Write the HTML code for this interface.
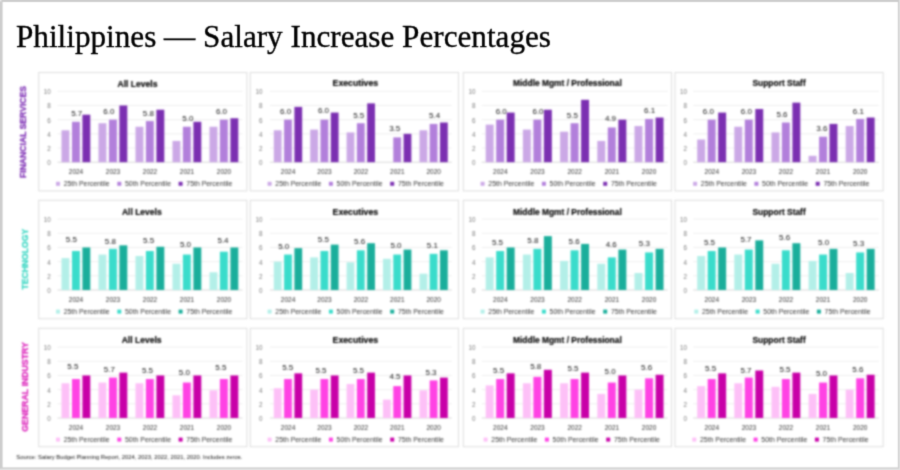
<!DOCTYPE html>
<html lang="en"><head><meta charset="utf-8"><title>Philippines — Salary Increase Percentages</title>
<style>
html,body{margin:0;padding:0;background:#e3e3e3;overflow:hidden}
body{width:900px;height:470px;position:relative;font-family:"Liberation Sans",Arial,sans-serif}
svg{position:absolute;left:0;top:0;display:block}

text{font-family:"Liberation Sans",Arial,sans-serif}
.ttl{font-family:"Liberation Serif","Times New Roman",serif;fill:#000;stroke:#000;stroke-width:0.35px}
.ct{font-weight:bold;fill:#000;stroke:#000;stroke-width:0.15px;text-anchor:middle}
.yl{fill:#7a7a7a;text-anchor:end}
.xl{fill:#303030;text-anchor:middle}
.lg{fill:#353535}
.dl{fill:#111;stroke:none;text-anchor:middle}
.sd{font-weight:bold;text-anchor:middle}
.src{fill:#111}
</style></head><body>
<svg id="s0" width="900" height="470" viewBox="0 0 900 470">
<defs>
<filter id="f0" filterUnits="userSpaceOnUse" x="0" y="0" width="900" height="470" color-interpolation-filters="sRGB"><feConvolveMatrix order="5" kernelMatrix="0.00001 0.00042 0.00170 0.00042 0.00001 0.00042 0.02740 0.10988 0.02740 0.00042 0.00170 0.10988 0.44065 0.10988 0.00170 0.00042 0.02740 0.10988 0.02740 0.00042 0.00001 0.00042 0.00170 0.00042 0.00001" edgeMode="duplicate" preserveAlpha="false"/></filter>
<filter id="f1" filterUnits="userSpaceOnUse" x="0" y="0" width="900" height="470" color-interpolation-filters="sRGB"><feConvolveMatrix order="5" kernelMatrix="0.00000 0.00013 0.00070 0.00013 0.00000 0.00013 0.01910 0.09973 0.01910 0.00013 0.00070 0.09973 0.52080 0.09973 0.00070 0.00013 0.01910 0.09973 0.01910 0.00013 0.00000 0.00013 0.00070 0.00013 0.00000" edgeMode="none" preserveAlpha="false"/></filter>
<filter id="f2" filterUnits="userSpaceOnUse" x="0" y="0" width="900" height="470" color-interpolation-filters="sRGB"><feConvolveMatrix order="7" kernelMatrix="0.00001 0.00013 0.00069 0.00121 0.00069 0.00013 0.00001 0.00013 0.00210 0.01105 0.01923 0.01105 0.00210 0.00013 0.00069 0.01105 0.05825 0.10136 0.05825 0.01105 0.00069 0.00121 0.01923 0.10136 0.17639 0.10136 0.01923 0.00121 0.00069 0.01105 0.05825 0.10136 0.05825 0.01105 0.00069 0.00013 0.00210 0.01105 0.01923 0.01105 0.00210 0.00013 0.00001 0.00013 0.00069 0.00121 0.00069 0.00013 0.00001" edgeMode="none" preserveAlpha="false"/></filter>
</defs><g filter="url(#f0)">
<rect x="-10" y="-10" width="920" height="490" fill="#e3e3e3"/>
<rect x="-5" y="-5" width="904.1" height="473.7" fill="#cdcdcd"/>
<rect x="-5" y="-5" width="6.4" height="6.4" fill="#e8e8e8"/>
<rect x="2.6" y="2" width="895.3" height="465.4" fill="#ffffff"/>
</g></svg>
<svg id="s1" width="900" height="470" viewBox="0 0 900 470"><g filter="url(#f1)">
<text class="ttl" x="16.0" y="46.6" font-size="31.6" textLength="535" lengthAdjust="spacingAndGlyphs">Philippines — Salary Increase Percentages</text>
</g></svg>
<svg id="s2" width="900" height="470" viewBox="0 0 900 470"><g filter="url(#f2)">
<text class="sd" font-size="8.7" fill="#7d2eb4" stroke="#7d2eb4" stroke-width="0.25" transform="translate(25.5,132.0) rotate(-90)" textLength="92.0" lengthAdjust="spacingAndGlyphs">FINANCIAL SERVICES</text>
<g>
<rect x="38.7" y="72.5" width="208.2" height="118.4" fill="#fff" stroke="#dedede" stroke-width="1"/>
<text class="ct" x="137.5" y="87.1" font-size="8.6" textLength="39.8" lengthAdjust="spacingAndGlyphs">All Levels</text>
<line x1="57.5" x2="242.5" y1="162.20" y2="162.20" stroke="#d4d4d4" stroke-width="0.9"/><text class="yl" x="50.8" y="165.10" font-size="6.3">0</text>
<line x1="57.5" x2="242.5" y1="148.02" y2="148.02" stroke="#ececec" stroke-width="0.9"/><text class="yl" x="50.8" y="150.92" font-size="6.3">2</text>
<line x1="57.5" x2="242.5" y1="133.84" y2="133.84" stroke="#ececec" stroke-width="0.9"/><text class="yl" x="50.8" y="136.74" font-size="6.3">4</text>
<line x1="57.5" x2="242.5" y1="119.66" y2="119.66" stroke="#ececec" stroke-width="0.9"/><text class="yl" x="50.8" y="122.56" font-size="6.3">6</text>
<line x1="57.5" x2="242.5" y1="105.48" y2="105.48" stroke="#ececec" stroke-width="0.9"/><text class="yl" x="50.8" y="108.38" font-size="6.3">8</text>
<line x1="57.5" x2="242.5" y1="91.30" y2="91.30" stroke="#ececec" stroke-width="0.9"/><text class="yl" x="50.8" y="94.20" font-size="6.3">10</text>
<rect x="61.5" y="130.29" width="7.90" height="31.90" fill="#cba8e6"/><rect x="72.0" y="121.79" width="7.90" height="40.41" fill="#b27fdb"/><rect x="82.4" y="114.70" width="7.90" height="47.50" fill="#7b2fb1"/>
<text class="xl" x="76.0" y="174.4" font-size="6.5">2024</text><text class="dl" x="76.7" y="116.1" font-size="8">5.7</text>
<rect x="98.5" y="123.20" width="7.90" height="38.99" fill="#cba8e6"/><rect x="109.0" y="119.66" width="7.90" height="42.54" fill="#b27fdb"/><rect x="119.4" y="105.48" width="7.90" height="56.72" fill="#7b2fb1"/>
<text class="xl" x="113.0" y="174.4" font-size="6.5">2023</text><text class="dl" x="108.9" y="114.0" font-size="8">6.0</text>
<rect x="135.5" y="126.75" width="7.90" height="35.45" fill="#cba8e6"/><rect x="145.9" y="121.08" width="7.90" height="41.12" fill="#b27fdb"/><rect x="156.4" y="109.73" width="7.90" height="52.47" fill="#7b2fb1"/>
<text class="xl" x="150.0" y="174.4" font-size="6.5">2022</text><text class="dl" x="148.4" y="115.5" font-size="8">5.8</text>
<rect x="172.5" y="140.93" width="7.90" height="21.27" fill="#cba8e6"/><rect x="182.9" y="126.75" width="7.90" height="35.45" fill="#b27fdb"/><rect x="193.4" y="121.79" width="7.90" height="40.41" fill="#7b2fb1"/>
<text class="xl" x="187.0" y="174.4" font-size="6.5">2021</text><text class="dl" x="187.8" y="121.1" font-size="8">5.0</text>
<rect x="209.5" y="126.75" width="7.90" height="35.45" fill="#cba8e6"/><rect x="219.9" y="119.66" width="7.90" height="42.54" fill="#b27fdb"/><rect x="230.4" y="118.24" width="7.90" height="43.96" fill="#7b2fb1"/>
<text class="xl" x="224.0" y="174.4" font-size="6.5">2020</text><text class="dl" x="221.5" y="114.0" font-size="8">6.0</text>
<rect x="56.0" y="181.8" width="4.0" height="4.0" fill="#cba8e6"/><text class="lg" x="63.7" y="186.2" font-size="6.9" textLength="46" lengthAdjust="spacingAndGlyphs">25th Percentile</text>
<rect x="117.3" y="181.8" width="4.0" height="4.0" fill="#b27fdb"/><text class="lg" x="125.0" y="186.2" font-size="6.9" textLength="46" lengthAdjust="spacingAndGlyphs">50th Percentile</text>
<rect x="178.6" y="181.8" width="4.0" height="4.0" fill="#7b2fb1"/><text class="lg" x="186.3" y="186.2" font-size="6.9" textLength="46" lengthAdjust="spacingAndGlyphs">75th Percentile</text>
</g>
<g>
<rect x="250.3" y="72.5" width="208.2" height="118.4" fill="#fff" stroke="#dedede" stroke-width="1"/>
<text class="ct" x="355.4" y="85.9" font-size="8.6" textLength="45.6" lengthAdjust="spacingAndGlyphs">Executives</text>
<line x1="269.9" x2="451.9" y1="162.20" y2="162.20" stroke="#d4d4d4" stroke-width="0.9"/><text class="yl" x="262.4" y="165.10" font-size="6.3">0</text>
<line x1="269.9" x2="451.9" y1="148.02" y2="148.02" stroke="#ececec" stroke-width="0.9"/><text class="yl" x="262.4" y="150.92" font-size="6.3">2</text>
<line x1="269.9" x2="451.9" y1="133.84" y2="133.84" stroke="#ececec" stroke-width="0.9"/><text class="yl" x="262.4" y="136.74" font-size="6.3">4</text>
<line x1="269.9" x2="451.9" y1="119.66" y2="119.66" stroke="#ececec" stroke-width="0.9"/><text class="yl" x="262.4" y="122.56" font-size="6.3">6</text>
<line x1="269.9" x2="451.9" y1="105.48" y2="105.48" stroke="#ececec" stroke-width="0.9"/><text class="yl" x="262.4" y="108.38" font-size="6.3">8</text>
<line x1="269.9" x2="451.9" y1="91.30" y2="91.30" stroke="#ececec" stroke-width="0.9"/><text class="yl" x="262.4" y="94.20" font-size="6.3">10</text>
<rect x="273.8" y="130.29" width="7.77" height="31.90" fill="#cba8e6"/><rect x="284.1" y="119.66" width="7.77" height="42.54" fill="#b27fdb"/><rect x="294.4" y="106.90" width="7.77" height="55.30" fill="#7b2fb1"/>
<text class="xl" x="288.1" y="174.4" font-size="6.5">2024</text><text class="dl" x="285.6" y="113.6" font-size="8">6.0</text>
<rect x="310.2" y="129.59" width="7.77" height="32.61" fill="#cba8e6"/><rect x="320.5" y="119.66" width="7.77" height="42.54" fill="#b27fdb"/><rect x="330.8" y="112.57" width="7.77" height="49.63" fill="#7b2fb1"/>
<text class="xl" x="324.5" y="174.4" font-size="6.5">2023</text><text class="dl" x="323.5" y="112.9" font-size="8">6.0</text>
<rect x="346.6" y="132.42" width="7.77" height="29.78" fill="#cba8e6"/><rect x="356.9" y="123.20" width="7.77" height="38.99" fill="#b27fdb"/><rect x="367.2" y="103.35" width="7.77" height="58.85" fill="#7b2fb1"/>
<text class="xl" x="360.9" y="174.4" font-size="6.5">2022</text><text class="dl" x="358.7" y="117.6" font-size="8">5.5</text>
<rect x="393.3" y="137.38" width="7.77" height="24.81" fill="#b27fdb"/><rect x="403.6" y="133.84" width="7.77" height="28.36" fill="#7b2fb1"/>
<text class="xl" x="397.3" y="174.4" font-size="6.5">2021</text><text class="dl" x="394.7" y="131.1" font-size="8">3.5</text>
<rect x="419.5" y="130.29" width="7.77" height="31.90" fill="#cba8e6"/><rect x="429.7" y="123.91" width="7.77" height="38.29" fill="#b27fdb"/><rect x="440.0" y="122.50" width="7.77" height="39.70" fill="#7b2fb1"/>
<text class="xl" x="433.7" y="174.4" font-size="6.5">2020</text><text class="dl" x="434.6" y="117.8" font-size="8">5.4</text>
<rect x="267.6" y="181.8" width="4.0" height="4.0" fill="#cba8e6"/><text class="lg" x="275.3" y="186.2" font-size="6.9" textLength="46" lengthAdjust="spacingAndGlyphs">25th Percentile</text>
<rect x="328.9" y="181.8" width="4.0" height="4.0" fill="#b27fdb"/><text class="lg" x="336.6" y="186.2" font-size="6.9" textLength="46" lengthAdjust="spacingAndGlyphs">50th Percentile</text>
<rect x="390.2" y="181.8" width="4.0" height="4.0" fill="#7b2fb1"/><text class="lg" x="397.9" y="186.2" font-size="6.9" textLength="46" lengthAdjust="spacingAndGlyphs">75th Percentile</text>
</g>
<g>
<rect x="463.3" y="72.5" width="208.2" height="118.4" fill="#fff" stroke="#dedede" stroke-width="1"/>
<text class="ct" x="567.4" y="86.1" font-size="8.6" textLength="108.7" lengthAdjust="spacingAndGlyphs">Middle Mgmt / Professional</text>
<line x1="481.7" x2="667.7" y1="162.20" y2="162.20" stroke="#d4d4d4" stroke-width="0.9"/><text class="yl" x="475.4" y="165.10" font-size="6.3">0</text>
<line x1="481.7" x2="667.7" y1="148.02" y2="148.02" stroke="#ececec" stroke-width="0.9"/><text class="yl" x="475.4" y="150.92" font-size="6.3">2</text>
<line x1="481.7" x2="667.7" y1="133.84" y2="133.84" stroke="#ececec" stroke-width="0.9"/><text class="yl" x="475.4" y="136.74" font-size="6.3">4</text>
<line x1="481.7" x2="667.7" y1="119.66" y2="119.66" stroke="#ececec" stroke-width="0.9"/><text class="yl" x="475.4" y="122.56" font-size="6.3">6</text>
<line x1="481.7" x2="667.7" y1="105.48" y2="105.48" stroke="#ececec" stroke-width="0.9"/><text class="yl" x="475.4" y="108.38" font-size="6.3">8</text>
<line x1="481.7" x2="667.7" y1="91.30" y2="91.30" stroke="#ececec" stroke-width="0.9"/><text class="yl" x="475.4" y="94.20" font-size="6.3">10</text>
<rect x="485.7" y="124.62" width="7.94" height="37.58" fill="#cba8e6"/><rect x="496.2" y="119.66" width="7.94" height="42.54" fill="#b27fdb"/><rect x="506.7" y="112.57" width="7.94" height="49.63" fill="#7b2fb1"/>
<text class="xl" x="500.3" y="174.4" font-size="6.5">2024</text><text class="dl" x="501.2" y="113.6" font-size="8">6.0</text>
<rect x="522.9" y="129.59" width="7.94" height="32.61" fill="#cba8e6"/><rect x="533.4" y="119.66" width="7.94" height="42.54" fill="#b27fdb"/><rect x="543.9" y="109.73" width="7.94" height="52.47" fill="#7b2fb1"/>
<text class="xl" x="537.5" y="174.4" font-size="6.5">2023</text><text class="dl" x="538.0" y="113.6" font-size="8">6.0</text>
<rect x="560.1" y="131.71" width="7.94" height="30.49" fill="#cba8e6"/><rect x="570.6" y="123.20" width="7.94" height="38.99" fill="#b27fdb"/><rect x="581.1" y="99.81" width="7.94" height="62.39" fill="#7b2fb1"/>
<text class="xl" x="574.7" y="174.4" font-size="6.5">2022</text><text class="dl" x="572.4" y="117.6" font-size="8">5.5</text>
<rect x="597.3" y="140.93" width="7.94" height="21.27" fill="#cba8e6"/><rect x="607.8" y="127.46" width="7.94" height="34.74" fill="#b27fdb"/><rect x="618.4" y="119.66" width="7.94" height="42.54" fill="#7b2fb1"/>
<text class="xl" x="611.9" y="174.4" font-size="6.5">2021</text><text class="dl" x="610.5" y="121.1" font-size="8">4.9</text>
<rect x="634.5" y="126.04" width="7.94" height="36.16" fill="#cba8e6"/><rect x="645.1" y="118.95" width="7.94" height="43.25" fill="#b27fdb"/><rect x="655.6" y="117.53" width="7.94" height="44.67" fill="#7b2fb1"/>
<text class="xl" x="649.1" y="174.4" font-size="6.5">2020</text><text class="dl" x="649.6" y="112.9" font-size="8">6.1</text>
<rect x="480.6" y="181.8" width="4.0" height="4.0" fill="#cba8e6"/><text class="lg" x="488.3" y="186.2" font-size="6.9" textLength="46" lengthAdjust="spacingAndGlyphs">25th Percentile</text>
<rect x="541.9" y="181.8" width="4.0" height="4.0" fill="#b27fdb"/><text class="lg" x="549.6" y="186.2" font-size="6.9" textLength="46" lengthAdjust="spacingAndGlyphs">50th Percentile</text>
<rect x="603.2" y="181.8" width="4.0" height="4.0" fill="#7b2fb1"/><text class="lg" x="610.9" y="186.2" font-size="6.9" textLength="46" lengthAdjust="spacingAndGlyphs">75th Percentile</text>
</g>
<g>
<rect x="675.0" y="72.5" width="208.2" height="118.4" fill="#fff" stroke="#dedede" stroke-width="1"/>
<text class="ct" x="779.1" y="86.1" font-size="8.6" textLength="53.2" lengthAdjust="spacingAndGlyphs">Support Staff</text>
<line x1="693.2" x2="878.8" y1="162.20" y2="162.20" stroke="#d4d4d4" stroke-width="0.9"/><text class="yl" x="687.1" y="165.10" font-size="6.3">0</text>
<line x1="693.2" x2="878.8" y1="148.02" y2="148.02" stroke="#ececec" stroke-width="0.9"/><text class="yl" x="687.1" y="150.92" font-size="6.3">2</text>
<line x1="693.2" x2="878.8" y1="133.84" y2="133.84" stroke="#ececec" stroke-width="0.9"/><text class="yl" x="687.1" y="136.74" font-size="6.3">4</text>
<line x1="693.2" x2="878.8" y1="119.66" y2="119.66" stroke="#ececec" stroke-width="0.9"/><text class="yl" x="687.1" y="122.56" font-size="6.3">6</text>
<line x1="693.2" x2="878.8" y1="105.48" y2="105.48" stroke="#ececec" stroke-width="0.9"/><text class="yl" x="687.1" y="108.38" font-size="6.3">8</text>
<line x1="693.2" x2="878.8" y1="91.30" y2="91.30" stroke="#ececec" stroke-width="0.9"/><text class="yl" x="687.1" y="94.20" font-size="6.3">10</text>
<rect x="697.2" y="139.51" width="7.93" height="22.69" fill="#cba8e6"/><rect x="707.7" y="119.66" width="7.93" height="42.54" fill="#b27fdb"/><rect x="718.2" y="112.57" width="7.93" height="49.63" fill="#7b2fb1"/>
<text class="xl" x="711.8" y="174.4" font-size="6.5">2024</text><text class="dl" x="708.4" y="114.0" font-size="8">6.0</text>
<rect x="734.3" y="126.75" width="7.93" height="35.45" fill="#cba8e6"/><rect x="744.8" y="119.66" width="7.93" height="42.54" fill="#b27fdb"/><rect x="755.3" y="109.03" width="7.93" height="53.17" fill="#7b2fb1"/>
<text class="xl" x="748.9" y="174.4" font-size="6.5">2023</text><text class="dl" x="746.4" y="114.0" font-size="8">6.0</text>
<rect x="771.5" y="132.42" width="7.93" height="29.78" fill="#cba8e6"/><rect x="781.9" y="122.50" width="7.93" height="39.70" fill="#b27fdb"/><rect x="792.4" y="102.64" width="7.93" height="59.56" fill="#7b2fb1"/>
<text class="xl" x="786.0" y="174.4" font-size="6.5">2022</text><text class="dl" x="782.0" y="116.8" font-size="8">5.6</text>
<rect x="808.6" y="155.82" width="7.93" height="6.38" fill="#cba8e6"/><rect x="819.1" y="136.68" width="7.93" height="25.52" fill="#b27fdb"/><rect x="829.5" y="123.91" width="7.93" height="38.29" fill="#7b2fb1"/>
<text class="xl" x="823.1" y="174.4" font-size="6.5">2021</text><text class="dl" x="821.9" y="131.1" font-size="8">3.6</text>
<rect x="845.7" y="126.04" width="7.93" height="36.16" fill="#cba8e6"/><rect x="856.2" y="118.95" width="7.93" height="43.25" fill="#b27fdb"/><rect x="866.7" y="117.53" width="7.93" height="44.67" fill="#7b2fb1"/>
<text class="xl" x="860.2" y="174.4" font-size="6.5">2020</text><text class="dl" x="858.3" y="114.0" font-size="8">6.1</text>
<rect x="693.1" y="181.8" width="4.0" height="4.0" fill="#cba8e6"/><text class="lg" x="700.8" y="186.2" font-size="6.9" textLength="46" lengthAdjust="spacingAndGlyphs">25th Percentile</text>
<rect x="754.4" y="181.8" width="4.0" height="4.0" fill="#b27fdb"/><text class="lg" x="762.1" y="186.2" font-size="6.9" textLength="46" lengthAdjust="spacingAndGlyphs">50th Percentile</text>
<rect x="815.7" y="181.8" width="4.0" height="4.0" fill="#7b2fb1"/><text class="lg" x="823.4" y="186.2" font-size="6.9" textLength="46" lengthAdjust="spacingAndGlyphs">75th Percentile</text>
</g>
<text class="sd" font-size="8.7" fill="#38d6c2" stroke="#38d6c2" stroke-width="0.25" transform="translate(27.9,259.2) rotate(-90)" textLength="60.8" lengthAdjust="spacingAndGlyphs">TECHNOLOGY</text>
<g>
<rect x="38.7" y="200.3" width="208.2" height="118.4" fill="#fff" stroke="#dedede" stroke-width="1"/>
<text class="ct" x="141.8" y="214.9" font-size="8.6" textLength="39.8" lengthAdjust="spacingAndGlyphs">All Levels</text>
<line x1="57.5" x2="242.5" y1="290.00" y2="290.00" stroke="#d4d4d4" stroke-width="0.9"/><text class="yl" x="50.8" y="292.90" font-size="6.3">0</text>
<line x1="57.5" x2="242.5" y1="275.82" y2="275.82" stroke="#ececec" stroke-width="0.9"/><text class="yl" x="50.8" y="278.72" font-size="6.3">2</text>
<line x1="57.5" x2="242.5" y1="261.64" y2="261.64" stroke="#ececec" stroke-width="0.9"/><text class="yl" x="50.8" y="264.54" font-size="6.3">4</text>
<line x1="57.5" x2="242.5" y1="247.46" y2="247.46" stroke="#ececec" stroke-width="0.9"/><text class="yl" x="50.8" y="250.36" font-size="6.3">6</text>
<line x1="57.5" x2="242.5" y1="233.28" y2="233.28" stroke="#ececec" stroke-width="0.9"/><text class="yl" x="50.8" y="236.18" font-size="6.3">8</text>
<line x1="57.5" x2="242.5" y1="219.10" y2="219.10" stroke="#ececec" stroke-width="0.9"/><text class="yl" x="50.8" y="222.00" font-size="6.3">10</text>
<rect x="61.5" y="258.10" width="7.90" height="31.90" fill="#b3efe8"/><rect x="72.0" y="251.00" width="7.90" height="38.99" fill="#3adccb"/><rect x="82.4" y="247.46" width="7.90" height="42.54" fill="#1aae9b"/>
<text class="xl" x="76.0" y="302.2" font-size="6.5">2024</text><text class="dl" x="71.4" y="242.0" font-size="8">5.5</text>
<rect x="98.5" y="254.55" width="7.90" height="35.45" fill="#b3efe8"/><rect x="109.0" y="248.88" width="7.90" height="41.12" fill="#3adccb"/><rect x="119.4" y="245.33" width="7.90" height="44.67" fill="#1aae9b"/>
<text class="xl" x="113.0" y="302.2" font-size="6.5">2023</text><text class="dl" x="110.4" y="244.1" font-size="8">5.8</text>
<rect x="135.5" y="255.97" width="7.90" height="34.03" fill="#b3efe8"/><rect x="145.9" y="251.00" width="7.90" height="38.99" fill="#3adccb"/><rect x="156.4" y="246.75" width="7.90" height="43.25" fill="#1aae9b"/>
<text class="xl" x="150.0" y="302.2" font-size="6.5">2022</text><text class="dl" x="148.6" y="242.6" font-size="8">5.5</text>
<rect x="172.5" y="263.77" width="7.90" height="26.23" fill="#b3efe8"/><rect x="182.9" y="254.55" width="7.90" height="35.45" fill="#3adccb"/><rect x="193.4" y="247.46" width="7.90" height="42.54" fill="#1aae9b"/>
<text class="xl" x="187.0" y="302.2" font-size="6.5">2021</text><text class="dl" x="185.5" y="247.3" font-size="8">5.0</text>
<rect x="209.5" y="272.27" width="7.90" height="17.72" fill="#b3efe8"/><rect x="219.9" y="251.71" width="7.90" height="38.29" fill="#3adccb"/><rect x="230.4" y="247.46" width="7.90" height="42.54" fill="#1aae9b"/>
<text class="xl" x="224.0" y="302.2" font-size="6.5">2020</text><text class="dl" x="223.0" y="242.6" font-size="8">5.4</text>
<rect x="56.0" y="309.6" width="4.0" height="4.0" fill="#b3efe8"/><text class="lg" x="63.7" y="314.0" font-size="6.9" textLength="46" lengthAdjust="spacingAndGlyphs">25th Percentile</text>
<rect x="117.3" y="309.6" width="4.0" height="4.0" fill="#3adccb"/><text class="lg" x="125.0" y="314.0" font-size="6.9" textLength="46" lengthAdjust="spacingAndGlyphs">50th Percentile</text>
<rect x="178.6" y="309.6" width="4.0" height="4.0" fill="#1aae9b"/><text class="lg" x="186.3" y="314.0" font-size="6.9" textLength="46" lengthAdjust="spacingAndGlyphs">75th Percentile</text>
</g>
<g>
<rect x="250.3" y="200.3" width="208.2" height="118.4" fill="#fff" stroke="#dedede" stroke-width="1"/>
<text class="ct" x="355.4" y="214.9" font-size="8.6" textLength="45.6" lengthAdjust="spacingAndGlyphs">Executives</text>
<line x1="269.9" x2="451.9" y1="290.00" y2="290.00" stroke="#d4d4d4" stroke-width="0.9"/><text class="yl" x="262.4" y="292.90" font-size="6.3">0</text>
<line x1="269.9" x2="451.9" y1="275.82" y2="275.82" stroke="#ececec" stroke-width="0.9"/><text class="yl" x="262.4" y="278.72" font-size="6.3">2</text>
<line x1="269.9" x2="451.9" y1="261.64" y2="261.64" stroke="#ececec" stroke-width="0.9"/><text class="yl" x="262.4" y="264.54" font-size="6.3">4</text>
<line x1="269.9" x2="451.9" y1="247.46" y2="247.46" stroke="#ececec" stroke-width="0.9"/><text class="yl" x="262.4" y="250.36" font-size="6.3">6</text>
<line x1="269.9" x2="451.9" y1="233.28" y2="233.28" stroke="#ececec" stroke-width="0.9"/><text class="yl" x="262.4" y="236.18" font-size="6.3">8</text>
<line x1="269.9" x2="451.9" y1="219.10" y2="219.10" stroke="#ececec" stroke-width="0.9"/><text class="yl" x="262.4" y="222.00" font-size="6.3">10</text>
<rect x="273.8" y="261.64" width="7.77" height="28.36" fill="#b3efe8"/><rect x="284.1" y="254.55" width="7.77" height="35.45" fill="#3adccb"/><rect x="294.4" y="248.17" width="7.77" height="41.83" fill="#1aae9b"/>
<text class="xl" x="288.1" y="302.2" font-size="6.5">2024</text><text class="dl" x="283.7" y="249.1" font-size="8">5.0</text>
<rect x="310.2" y="257.39" width="7.77" height="32.61" fill="#b3efe8"/><rect x="320.5" y="251.00" width="7.77" height="38.99" fill="#3adccb"/><rect x="330.8" y="244.62" width="7.77" height="45.38" fill="#1aae9b"/>
<text class="xl" x="324.5" y="302.2" font-size="6.5">2023</text><text class="dl" x="323.3" y="242.0" font-size="8">5.5</text>
<rect x="346.6" y="262.35" width="7.77" height="27.65" fill="#b3efe8"/><rect x="356.9" y="250.30" width="7.77" height="39.70" fill="#3adccb"/><rect x="367.2" y="243.21" width="7.77" height="46.79" fill="#1aae9b"/>
<text class="xl" x="360.9" y="302.2" font-size="6.5">2022</text><text class="dl" x="359.6" y="244.1" font-size="8">5.6</text>
<rect x="383.0" y="258.80" width="7.77" height="31.20" fill="#b3efe8"/><rect x="393.3" y="254.55" width="7.77" height="35.45" fill="#3adccb"/><rect x="403.6" y="249.59" width="7.77" height="40.41" fill="#1aae9b"/>
<text class="xl" x="397.3" y="302.2" font-size="6.5">2021</text><text class="dl" x="396.0" y="248.0" font-size="8">5.0</text>
<rect x="419.5" y="273.69" width="7.77" height="16.31" fill="#b3efe8"/><rect x="429.7" y="253.84" width="7.77" height="36.16" fill="#3adccb"/><rect x="440.0" y="250.30" width="7.77" height="39.70" fill="#1aae9b"/>
<text class="xl" x="433.7" y="302.2" font-size="6.5">2020</text><text class="dl" x="432.3" y="248.0" font-size="8">5.1</text>
<rect x="267.6" y="309.6" width="4.0" height="4.0" fill="#b3efe8"/><text class="lg" x="275.3" y="314.0" font-size="6.9" textLength="46" lengthAdjust="spacingAndGlyphs">25th Percentile</text>
<rect x="328.9" y="309.6" width="4.0" height="4.0" fill="#3adccb"/><text class="lg" x="336.6" y="314.0" font-size="6.9" textLength="46" lengthAdjust="spacingAndGlyphs">50th Percentile</text>
<rect x="390.2" y="309.6" width="4.0" height="4.0" fill="#1aae9b"/><text class="lg" x="397.9" y="314.0" font-size="6.9" textLength="46" lengthAdjust="spacingAndGlyphs">75th Percentile</text>
</g>
<g>
<rect x="463.3" y="200.3" width="208.2" height="118.4" fill="#fff" stroke="#dedede" stroke-width="1"/>
<text class="ct" x="567.4" y="214.9" font-size="8.6" textLength="108.7" lengthAdjust="spacingAndGlyphs">Middle Mgmt / Professional</text>
<line x1="481.7" x2="667.7" y1="290.00" y2="290.00" stroke="#d4d4d4" stroke-width="0.9"/><text class="yl" x="475.4" y="292.90" font-size="6.3">0</text>
<line x1="481.7" x2="667.7" y1="275.82" y2="275.82" stroke="#ececec" stroke-width="0.9"/><text class="yl" x="475.4" y="278.72" font-size="6.3">2</text>
<line x1="481.7" x2="667.7" y1="261.64" y2="261.64" stroke="#ececec" stroke-width="0.9"/><text class="yl" x="475.4" y="264.54" font-size="6.3">4</text>
<line x1="481.7" x2="667.7" y1="247.46" y2="247.46" stroke="#ececec" stroke-width="0.9"/><text class="yl" x="475.4" y="250.36" font-size="6.3">6</text>
<line x1="481.7" x2="667.7" y1="233.28" y2="233.28" stroke="#ececec" stroke-width="0.9"/><text class="yl" x="475.4" y="236.18" font-size="6.3">8</text>
<line x1="481.7" x2="667.7" y1="219.10" y2="219.10" stroke="#ececec" stroke-width="0.9"/><text class="yl" x="475.4" y="222.00" font-size="6.3">10</text>
<rect x="485.7" y="257.39" width="7.94" height="32.61" fill="#b3efe8"/><rect x="496.2" y="251.00" width="7.94" height="38.99" fill="#3adccb"/><rect x="506.7" y="247.46" width="7.94" height="42.54" fill="#1aae9b"/>
<text class="xl" x="500.3" y="302.2" font-size="6.5">2024</text><text class="dl" x="497.5" y="245.2" font-size="8">5.5</text>
<rect x="522.9" y="254.55" width="7.94" height="35.45" fill="#b3efe8"/><rect x="533.4" y="248.88" width="7.94" height="41.12" fill="#3adccb"/><rect x="543.9" y="236.12" width="7.94" height="53.88" fill="#1aae9b"/>
<text class="xl" x="537.5" y="302.2" font-size="6.5">2023</text><text class="dl" x="532.9" y="242.6" font-size="8">5.8</text>
<rect x="560.1" y="260.93" width="7.94" height="29.07" fill="#b3efe8"/><rect x="570.6" y="250.30" width="7.94" height="39.70" fill="#3adccb"/><rect x="581.1" y="243.92" width="7.94" height="46.08" fill="#1aae9b"/>
<text class="xl" x="574.7" y="302.2" font-size="6.5">2022</text><text class="dl" x="574.1" y="243.5" font-size="8">5.6</text>
<rect x="597.3" y="263.77" width="7.94" height="26.23" fill="#b3efe8"/><rect x="607.8" y="257.39" width="7.94" height="32.61" fill="#3adccb"/><rect x="618.4" y="249.59" width="7.94" height="40.41" fill="#1aae9b"/>
<text class="xl" x="611.9" y="302.2" font-size="6.5">2021</text><text class="dl" x="611.2" y="247.3" font-size="8">4.6</text>
<rect x="634.5" y="272.98" width="7.94" height="17.02" fill="#b3efe8"/><rect x="645.1" y="252.42" width="7.94" height="37.58" fill="#3adccb"/><rect x="655.6" y="248.88" width="7.94" height="41.12" fill="#1aae9b"/>
<text class="xl" x="649.1" y="302.2" font-size="6.5">2020</text><text class="dl" x="644.4" y="245.6" font-size="8">5.3</text>
<rect x="480.6" y="309.6" width="4.0" height="4.0" fill="#b3efe8"/><text class="lg" x="488.3" y="314.0" font-size="6.9" textLength="46" lengthAdjust="spacingAndGlyphs">25th Percentile</text>
<rect x="541.9" y="309.6" width="4.0" height="4.0" fill="#3adccb"/><text class="lg" x="549.6" y="314.0" font-size="6.9" textLength="46" lengthAdjust="spacingAndGlyphs">50th Percentile</text>
<rect x="603.2" y="309.6" width="4.0" height="4.0" fill="#1aae9b"/><text class="lg" x="610.9" y="314.0" font-size="6.9" textLength="46" lengthAdjust="spacingAndGlyphs">75th Percentile</text>
</g>
<g>
<rect x="675.0" y="200.3" width="208.2" height="118.4" fill="#fff" stroke="#dedede" stroke-width="1"/>
<text class="ct" x="779.1" y="214.9" font-size="8.6" textLength="53.2" lengthAdjust="spacingAndGlyphs">Support Staff</text>
<line x1="693.2" x2="878.8" y1="290.00" y2="290.00" stroke="#d4d4d4" stroke-width="0.9"/><text class="yl" x="687.1" y="292.90" font-size="6.3">0</text>
<line x1="693.2" x2="878.8" y1="275.82" y2="275.82" stroke="#ececec" stroke-width="0.9"/><text class="yl" x="687.1" y="278.72" font-size="6.3">2</text>
<line x1="693.2" x2="878.8" y1="261.64" y2="261.64" stroke="#ececec" stroke-width="0.9"/><text class="yl" x="687.1" y="264.54" font-size="6.3">4</text>
<line x1="693.2" x2="878.8" y1="247.46" y2="247.46" stroke="#ececec" stroke-width="0.9"/><text class="yl" x="687.1" y="250.36" font-size="6.3">6</text>
<line x1="693.2" x2="878.8" y1="233.28" y2="233.28" stroke="#ececec" stroke-width="0.9"/><text class="yl" x="687.1" y="236.18" font-size="6.3">8</text>
<line x1="693.2" x2="878.8" y1="219.10" y2="219.10" stroke="#ececec" stroke-width="0.9"/><text class="yl" x="687.1" y="222.00" font-size="6.3">10</text>
<rect x="697.2" y="255.97" width="7.93" height="34.03" fill="#b3efe8"/><rect x="707.7" y="251.00" width="7.93" height="38.99" fill="#3adccb"/><rect x="718.2" y="247.46" width="7.93" height="42.54" fill="#1aae9b"/>
<text class="xl" x="711.8" y="302.2" font-size="6.5">2024</text><text class="dl" x="709.5" y="245.2" font-size="8">5.5</text>
<rect x="734.3" y="254.55" width="7.93" height="35.45" fill="#b3efe8"/><rect x="744.8" y="249.59" width="7.93" height="40.41" fill="#3adccb"/><rect x="755.3" y="240.37" width="7.93" height="49.63" fill="#1aae9b"/>
<text class="xl" x="748.9" y="302.2" font-size="6.5">2023</text><text class="dl" x="746.0" y="241.6" font-size="8">5.7</text>
<rect x="771.5" y="263.77" width="7.93" height="26.23" fill="#b3efe8"/><rect x="781.9" y="250.30" width="7.93" height="39.70" fill="#3adccb"/><rect x="792.4" y="243.21" width="7.93" height="46.79" fill="#1aae9b"/>
<text class="xl" x="786.0" y="302.2" font-size="6.5">2022</text><text class="dl" x="784.6" y="240.3" font-size="8">5.6</text>
<rect x="808.6" y="260.93" width="7.93" height="29.07" fill="#b3efe8"/><rect x="819.1" y="254.55" width="7.93" height="35.45" fill="#3adccb"/><rect x="829.5" y="248.88" width="7.93" height="41.12" fill="#1aae9b"/>
<text class="xl" x="823.1" y="302.2" font-size="6.5">2021</text><text class="dl" x="823.6" y="244.8" font-size="8">5.0</text>
<rect x="845.7" y="272.98" width="7.93" height="17.02" fill="#b3efe8"/><rect x="856.2" y="252.42" width="7.93" height="37.58" fill="#3adccb"/><rect x="866.7" y="248.88" width="7.93" height="41.12" fill="#1aae9b"/>
<text class="xl" x="860.2" y="302.2" font-size="6.5">2020</text><text class="dl" x="858.6" y="245.6" font-size="8">5.3</text>
<rect x="694.3" y="309.6" width="4.0" height="4.0" fill="#b3efe8"/><text class="lg" x="702.0" y="314.0" font-size="6.9" textLength="46" lengthAdjust="spacingAndGlyphs">25th Percentile</text>
<rect x="755.6" y="309.6" width="4.0" height="4.0" fill="#3adccb"/><text class="lg" x="763.3" y="314.0" font-size="6.9" textLength="46" lengthAdjust="spacingAndGlyphs">50th Percentile</text>
<rect x="816.9" y="309.6" width="4.0" height="4.0" fill="#1aae9b"/><text class="lg" x="824.6" y="314.0" font-size="6.9" textLength="46" lengthAdjust="spacingAndGlyphs">75th Percentile</text>
</g>
<text class="sd" font-size="8.7" fill="#dc26bc" stroke="#dc26bc" stroke-width="0.25" transform="translate(28.3,386.9) rotate(-90)" textLength="89.7" lengthAdjust="spacingAndGlyphs">GENERAL INDUSTRY</text>
<g>
<rect x="38.7" y="328.3" width="208.2" height="118.4" fill="#fff" stroke="#dedede" stroke-width="1"/>
<text class="ct" x="141.6" y="342.9" font-size="8.6" textLength="39.8" lengthAdjust="spacingAndGlyphs">All Levels</text>
<line x1="57.5" x2="242.5" y1="418.00" y2="418.00" stroke="#d4d4d4" stroke-width="0.9"/><text class="yl" x="50.8" y="420.90" font-size="6.3">0</text>
<line x1="57.5" x2="242.5" y1="403.82" y2="403.82" stroke="#ececec" stroke-width="0.9"/><text class="yl" x="50.8" y="406.72" font-size="6.3">2</text>
<line x1="57.5" x2="242.5" y1="389.64" y2="389.64" stroke="#ececec" stroke-width="0.9"/><text class="yl" x="50.8" y="392.54" font-size="6.3">4</text>
<line x1="57.5" x2="242.5" y1="375.46" y2="375.46" stroke="#ececec" stroke-width="0.9"/><text class="yl" x="50.8" y="378.36" font-size="6.3">6</text>
<line x1="57.5" x2="242.5" y1="361.28" y2="361.28" stroke="#ececec" stroke-width="0.9"/><text class="yl" x="50.8" y="364.18" font-size="6.3">8</text>
<line x1="57.5" x2="242.5" y1="347.10" y2="347.10" stroke="#ececec" stroke-width="0.9"/><text class="yl" x="50.8" y="350.00" font-size="6.3">10</text>
<rect x="61.5" y="383.26" width="7.90" height="34.74" fill="#fdc0f7"/><rect x="72.0" y="379.00" width="7.90" height="38.99" fill="#ff42e4"/><rect x="82.4" y="375.46" width="7.90" height="42.54" fill="#c800a8"/>
<text class="xl" x="76.0" y="430.2" font-size="6.5">2024</text><text class="dl" x="72.9" y="369.3" font-size="8">5.5</text>
<rect x="98.5" y="382.55" width="7.90" height="35.45" fill="#fdc0f7"/><rect x="109.0" y="377.59" width="7.90" height="40.41" fill="#ff42e4"/><rect x="119.4" y="372.62" width="7.90" height="45.38" fill="#c800a8"/>
<text class="xl" x="113.0" y="430.2" font-size="6.5">2023</text><text class="dl" x="109.3" y="371.5" font-size="8">5.7</text>
<rect x="135.5" y="383.26" width="7.90" height="34.74" fill="#fdc0f7"/><rect x="145.9" y="379.00" width="7.90" height="38.99" fill="#ff42e4"/><rect x="156.4" y="375.46" width="7.90" height="42.54" fill="#c800a8"/>
<text class="xl" x="150.0" y="430.2" font-size="6.5">2022</text><text class="dl" x="147.5" y="373.2" font-size="8">5.5</text>
<rect x="172.5" y="395.31" width="7.90" height="22.69" fill="#fdc0f7"/><rect x="182.9" y="382.55" width="7.90" height="35.45" fill="#ff42e4"/><rect x="193.4" y="375.46" width="7.90" height="42.54" fill="#c800a8"/>
<text class="xl" x="187.0" y="430.2" font-size="6.5">2021</text><text class="dl" x="184.4" y="374.7" font-size="8">5.0</text>
<rect x="209.5" y="390.35" width="7.90" height="27.65" fill="#fdc0f7"/><rect x="219.9" y="379.00" width="7.90" height="38.99" fill="#ff42e4"/><rect x="230.4" y="375.46" width="7.90" height="42.54" fill="#c800a8"/>
<text class="xl" x="224.0" y="430.2" font-size="6.5">2020</text><text class="dl" x="220.8" y="370.4" font-size="8">5.5</text>
<rect x="56.0" y="437.6" width="4.0" height="4.0" fill="#fdc0f7"/><text class="lg" x="63.7" y="442.0" font-size="6.9" textLength="46" lengthAdjust="spacingAndGlyphs">25th Percentile</text>
<rect x="117.3" y="437.6" width="4.0" height="4.0" fill="#ff42e4"/><text class="lg" x="125.0" y="442.0" font-size="6.9" textLength="46" lengthAdjust="spacingAndGlyphs">50th Percentile</text>
<rect x="178.6" y="437.6" width="4.0" height="4.0" fill="#c800a8"/><text class="lg" x="186.3" y="442.0" font-size="6.9" textLength="46" lengthAdjust="spacingAndGlyphs">75th Percentile</text>
</g>
<g>
<rect x="250.3" y="328.3" width="208.2" height="118.4" fill="#fff" stroke="#dedede" stroke-width="1"/>
<text class="ct" x="355.4" y="342.9" font-size="8.6" textLength="45.6" lengthAdjust="spacingAndGlyphs">Executives</text>
<line x1="269.9" x2="451.9" y1="418.00" y2="418.00" stroke="#d4d4d4" stroke-width="0.9"/><text class="yl" x="262.4" y="420.90" font-size="6.3">0</text>
<line x1="269.9" x2="451.9" y1="403.82" y2="403.82" stroke="#ececec" stroke-width="0.9"/><text class="yl" x="262.4" y="406.72" font-size="6.3">2</text>
<line x1="269.9" x2="451.9" y1="389.64" y2="389.64" stroke="#ececec" stroke-width="0.9"/><text class="yl" x="262.4" y="392.54" font-size="6.3">4</text>
<line x1="269.9" x2="451.9" y1="375.46" y2="375.46" stroke="#ececec" stroke-width="0.9"/><text class="yl" x="262.4" y="378.36" font-size="6.3">6</text>
<line x1="269.9" x2="451.9" y1="361.28" y2="361.28" stroke="#ececec" stroke-width="0.9"/><text class="yl" x="262.4" y="364.18" font-size="6.3">8</text>
<line x1="269.9" x2="451.9" y1="347.10" y2="347.10" stroke="#ececec" stroke-width="0.9"/><text class="yl" x="262.4" y="350.00" font-size="6.3">10</text>
<rect x="273.8" y="388.22" width="7.77" height="29.78" fill="#fdc0f7"/><rect x="284.1" y="379.00" width="7.77" height="38.99" fill="#ff42e4"/><rect x="294.4" y="373.33" width="7.77" height="44.67" fill="#c800a8"/>
<text class="xl" x="288.1" y="430.2" font-size="6.5">2024</text><text class="dl" x="287.7" y="370.0" font-size="8">5.5</text>
<rect x="310.2" y="389.64" width="7.77" height="28.36" fill="#fdc0f7"/><rect x="320.5" y="379.00" width="7.77" height="38.99" fill="#ff42e4"/><rect x="330.8" y="375.46" width="7.77" height="42.54" fill="#c800a8"/>
<text class="xl" x="324.5" y="430.2" font-size="6.5">2023</text><text class="dl" x="321.0" y="373.2" font-size="8">5.5</text>
<rect x="346.6" y="383.97" width="7.77" height="34.03" fill="#fdc0f7"/><rect x="356.9" y="379.00" width="7.77" height="38.99" fill="#ff42e4"/><rect x="367.2" y="372.62" width="7.77" height="45.38" fill="#c800a8"/>
<text class="xl" x="360.9" y="430.2" font-size="6.5">2022</text><text class="dl" x="358.5" y="373.2" font-size="8">5.5</text>
<rect x="383.0" y="399.57" width="7.77" height="18.43" fill="#fdc0f7"/><rect x="393.3" y="386.10" width="7.77" height="31.90" fill="#ff42e4"/><rect x="403.6" y="375.46" width="7.77" height="42.54" fill="#c800a8"/>
<text class="xl" x="397.3" y="430.2" font-size="6.5">2021</text><text class="dl" x="395.0" y="379.2" font-size="8">4.5</text>
<rect x="419.5" y="390.35" width="7.77" height="27.65" fill="#fdc0f7"/><rect x="429.7" y="380.42" width="7.77" height="37.58" fill="#ff42e4"/><rect x="440.0" y="377.59" width="7.77" height="40.41" fill="#c800a8"/>
<text class="xl" x="433.7" y="430.2" font-size="6.5">2020</text><text class="dl" x="431.0" y="374.7" font-size="8">5.3</text>
<rect x="267.6" y="437.6" width="4.0" height="4.0" fill="#fdc0f7"/><text class="lg" x="275.3" y="442.0" font-size="6.9" textLength="46" lengthAdjust="spacingAndGlyphs">25th Percentile</text>
<rect x="328.9" y="437.6" width="4.0" height="4.0" fill="#ff42e4"/><text class="lg" x="336.6" y="442.0" font-size="6.9" textLength="46" lengthAdjust="spacingAndGlyphs">50th Percentile</text>
<rect x="390.2" y="437.6" width="4.0" height="4.0" fill="#c800a8"/><text class="lg" x="397.9" y="442.0" font-size="6.9" textLength="46" lengthAdjust="spacingAndGlyphs">75th Percentile</text>
</g>
<g>
<rect x="463.3" y="328.3" width="208.2" height="118.4" fill="#fff" stroke="#dedede" stroke-width="1"/>
<text class="ct" x="567.4" y="342.9" font-size="8.6" textLength="108.7" lengthAdjust="spacingAndGlyphs">Middle Mgmt / Professional</text>
<line x1="481.7" x2="667.7" y1="418.00" y2="418.00" stroke="#d4d4d4" stroke-width="0.9"/><text class="yl" x="475.4" y="420.90" font-size="6.3">0</text>
<line x1="481.7" x2="667.7" y1="403.82" y2="403.82" stroke="#ececec" stroke-width="0.9"/><text class="yl" x="475.4" y="406.72" font-size="6.3">2</text>
<line x1="481.7" x2="667.7" y1="389.64" y2="389.64" stroke="#ececec" stroke-width="0.9"/><text class="yl" x="475.4" y="392.54" font-size="6.3">4</text>
<line x1="481.7" x2="667.7" y1="375.46" y2="375.46" stroke="#ececec" stroke-width="0.9"/><text class="yl" x="475.4" y="378.36" font-size="6.3">6</text>
<line x1="481.7" x2="667.7" y1="361.28" y2="361.28" stroke="#ececec" stroke-width="0.9"/><text class="yl" x="475.4" y="364.18" font-size="6.3">8</text>
<line x1="481.7" x2="667.7" y1="347.10" y2="347.10" stroke="#ececec" stroke-width="0.9"/><text class="yl" x="475.4" y="350.00" font-size="6.3">10</text>
<rect x="485.7" y="385.39" width="7.94" height="32.61" fill="#fdc0f7"/><rect x="496.2" y="379.00" width="7.94" height="38.99" fill="#ff42e4"/><rect x="506.7" y="373.33" width="7.94" height="44.67" fill="#c800a8"/>
<text class="xl" x="500.3" y="430.2" font-size="6.5">2024</text><text class="dl" x="498.6" y="373.2" font-size="8">5.5</text>
<rect x="522.9" y="383.26" width="7.94" height="34.74" fill="#fdc0f7"/><rect x="533.4" y="376.88" width="7.94" height="41.12" fill="#ff42e4"/><rect x="543.9" y="369.79" width="7.94" height="48.21" fill="#c800a8"/>
<text class="xl" x="537.5" y="430.2" font-size="6.5">2023</text><text class="dl" x="535.7" y="369.3" font-size="8">5.8</text>
<rect x="560.1" y="383.26" width="7.94" height="34.74" fill="#fdc0f7"/><rect x="570.6" y="379.00" width="7.94" height="38.99" fill="#ff42e4"/><rect x="581.1" y="372.62" width="7.94" height="45.38" fill="#c800a8"/>
<text class="xl" x="574.7" y="430.2" font-size="6.5">2022</text><text class="dl" x="573.0" y="371.1" font-size="8">5.5</text>
<rect x="597.3" y="393.89" width="7.94" height="24.11" fill="#fdc0f7"/><rect x="607.8" y="382.55" width="7.94" height="35.45" fill="#ff42e4"/><rect x="618.4" y="375.46" width="7.94" height="42.54" fill="#c800a8"/>
<text class="xl" x="611.9" y="430.2" font-size="6.5">2021</text><text class="dl" x="610.1" y="373.6" font-size="8">5.0</text>
<rect x="634.5" y="389.64" width="7.94" height="28.36" fill="#fdc0f7"/><rect x="645.1" y="378.30" width="7.94" height="39.70" fill="#ff42e4"/><rect x="655.6" y="374.75" width="7.94" height="43.25" fill="#c800a8"/>
<text class="xl" x="649.1" y="430.2" font-size="6.5">2020</text><text class="dl" x="646.6" y="369.6" font-size="8">5.6</text>
<rect x="483.6" y="437.6" width="4.0" height="4.0" fill="#fdc0f7"/><text class="lg" x="491.3" y="442.0" font-size="6.9" textLength="46" lengthAdjust="spacingAndGlyphs">25th Percentile</text>
<rect x="544.9" y="437.6" width="4.0" height="4.0" fill="#ff42e4"/><text class="lg" x="552.6" y="442.0" font-size="6.9" textLength="46" lengthAdjust="spacingAndGlyphs">50th Percentile</text>
<rect x="606.2" y="437.6" width="4.0" height="4.0" fill="#c800a8"/><text class="lg" x="613.9" y="442.0" font-size="6.9" textLength="46" lengthAdjust="spacingAndGlyphs">75th Percentile</text>
</g>
<g>
<rect x="675.0" y="328.3" width="208.2" height="118.4" fill="#fff" stroke="#dedede" stroke-width="1"/>
<text class="ct" x="779.1" y="342.9" font-size="8.6" textLength="53.2" lengthAdjust="spacingAndGlyphs">Support Staff</text>
<line x1="693.2" x2="878.8" y1="418.00" y2="418.00" stroke="#d4d4d4" stroke-width="0.9"/><text class="yl" x="687.1" y="420.90" font-size="6.3">0</text>
<line x1="693.2" x2="878.8" y1="403.82" y2="403.82" stroke="#ececec" stroke-width="0.9"/><text class="yl" x="687.1" y="406.72" font-size="6.3">2</text>
<line x1="693.2" x2="878.8" y1="389.64" y2="389.64" stroke="#ececec" stroke-width="0.9"/><text class="yl" x="687.1" y="392.54" font-size="6.3">4</text>
<line x1="693.2" x2="878.8" y1="375.46" y2="375.46" stroke="#ececec" stroke-width="0.9"/><text class="yl" x="687.1" y="378.36" font-size="6.3">6</text>
<line x1="693.2" x2="878.8" y1="361.28" y2="361.28" stroke="#ececec" stroke-width="0.9"/><text class="yl" x="687.1" y="364.18" font-size="6.3">8</text>
<line x1="693.2" x2="878.8" y1="347.10" y2="347.10" stroke="#ececec" stroke-width="0.9"/><text class="yl" x="687.1" y="350.00" font-size="6.3">10</text>
<rect x="697.2" y="386.10" width="7.93" height="31.90" fill="#fdc0f7"/><rect x="707.7" y="379.00" width="7.93" height="38.99" fill="#ff42e4"/><rect x="718.2" y="373.33" width="7.93" height="44.67" fill="#c800a8"/>
<text class="xl" x="711.8" y="430.2" font-size="6.5">2024</text><text class="dl" x="710.6" y="371.1" font-size="8">5.5</text>
<rect x="734.3" y="383.26" width="7.93" height="34.74" fill="#fdc0f7"/><rect x="744.8" y="377.59" width="7.93" height="40.41" fill="#ff42e4"/><rect x="755.3" y="370.50" width="7.93" height="47.50" fill="#c800a8"/>
<text class="xl" x="748.9" y="430.2" font-size="6.5">2023</text><text class="dl" x="746.0" y="372.6" font-size="8">5.7</text>
<rect x="771.5" y="386.80" width="7.93" height="31.20" fill="#fdc0f7"/><rect x="781.9" y="379.00" width="7.93" height="38.99" fill="#ff42e4"/><rect x="792.4" y="372.62" width="7.93" height="45.38" fill="#c800a8"/>
<text class="xl" x="786.0" y="430.2" font-size="6.5">2022</text><text class="dl" x="785.0" y="371.7" font-size="8">5.5</text>
<rect x="808.6" y="393.89" width="7.93" height="24.11" fill="#fdc0f7"/><rect x="819.1" y="382.55" width="7.93" height="35.45" fill="#ff42e4"/><rect x="829.5" y="375.46" width="7.93" height="42.54" fill="#c800a8"/>
<text class="xl" x="823.1" y="430.2" font-size="6.5">2021</text><text class="dl" x="821.5" y="376.0" font-size="8">5.0</text>
<rect x="845.7" y="389.64" width="7.93" height="28.36" fill="#fdc0f7"/><rect x="856.2" y="378.30" width="7.93" height="39.70" fill="#ff42e4"/><rect x="866.7" y="374.75" width="7.93" height="43.25" fill="#c800a8"/>
<text class="xl" x="860.2" y="430.2" font-size="6.5">2020</text><text class="dl" x="857.9" y="371.7" font-size="8">5.6</text>
<rect x="692.3" y="437.6" width="4.0" height="4.0" fill="#fdc0f7"/><text class="lg" x="700.0" y="442.0" font-size="6.9" textLength="46" lengthAdjust="spacingAndGlyphs">25th Percentile</text>
<rect x="753.6" y="437.6" width="4.0" height="4.0" fill="#ff42e4"/><text class="lg" x="761.3" y="442.0" font-size="6.9" textLength="46" lengthAdjust="spacingAndGlyphs">50th Percentile</text>
<rect x="814.9" y="437.6" width="4.0" height="4.0" fill="#c800a8"/><text class="lg" x="822.6" y="442.0" font-size="6.9" textLength="46" lengthAdjust="spacingAndGlyphs">75th Percentile</text>
</g>
<text class="src" x="16.3" y="459.4" font-size="5.85" textLength="226" lengthAdjust="spacingAndGlyphs">Source: Salary Budget Planning Report, 2024, 2023, 2022, 2021, 2020. Includes zeros.</text>
</g></svg>
</body></html>
